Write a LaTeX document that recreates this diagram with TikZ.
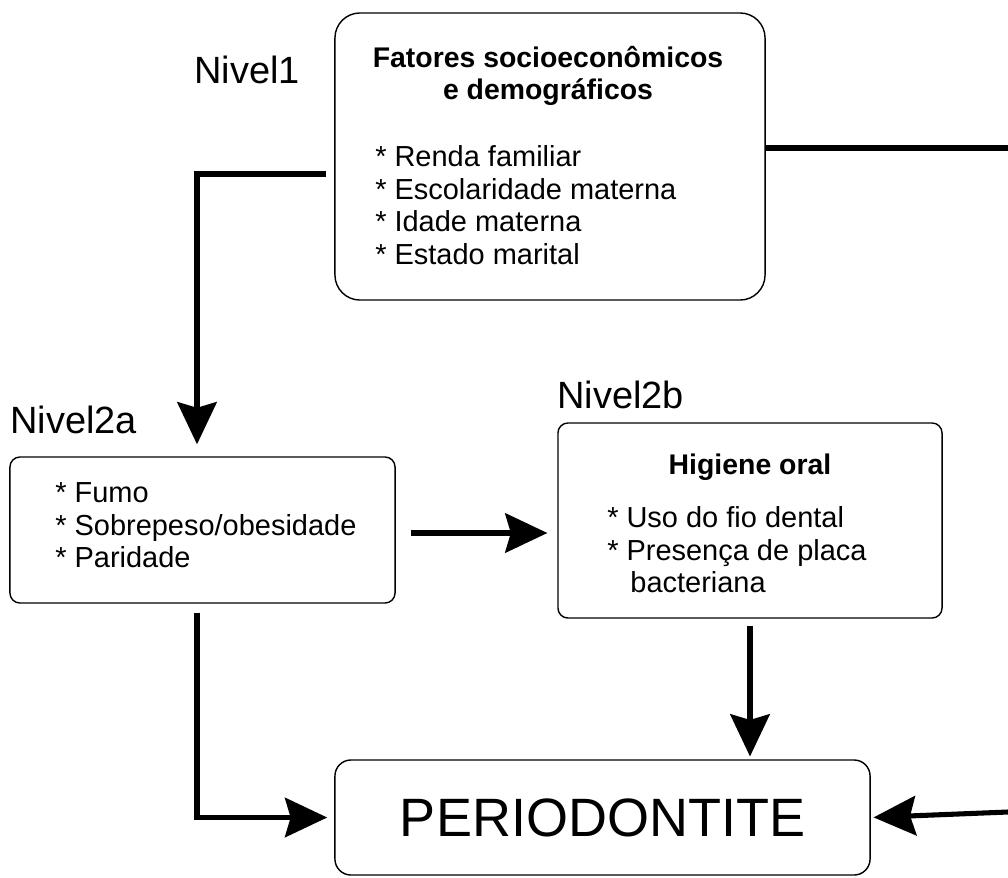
\documentclass[tikz,border=0pt]{standalone}
\usepackage{fontspec}
\setmainfont{Liberation Sans}
\usetikzlibrary{arrows.meta, positioning}

\begin{document}
\begin{tikzpicture}[x=0.025cm, y=-0.025cm,
    box/.style={draw, line width=1pt, inner sep=0pt},
    conn/.style={line width=3.6pt, -{Stealth[length=30pt, width=28pt, inset=4pt]}},
    lvl/.style={font=\fontsize{27}{30}\selectfont, inner sep=0pt},
    txt/.style={font=\fontsize{20.6}{23.1}\selectfont, align=left, inner sep=0pt},
    head/.style={font=\fontsize{20.2}{22.8}\selectfont\bfseries, align=center, inner sep=0pt}]

      \useasboundingbox (0,0) rectangle (1008,877);

      \node[box, rounded corners=0.625cm, minimum width=10.75cm, minimum height=7.175cm] (nivA) at (550,156.5) {};
      \node[head] (nivAtit) at (548,76) {Fatores socioeconômicos\\e demográficos};
      \node[txt, anchor=west] (nivAitm) at (375,205) {* Renda familiar\\* Escolaridade materna\\* Idade materna\\* Estado marital};
      \node[lvl] (nivAlab) at (247,70) {Nivel1};

      \node[box, rounded corners=0.25cm, minimum width=9.625cm, minimum height=3.65cm] (nivBa) at (202.5,530) {};
      \node[txt, anchor=west] (nivBaitm) at (55,525.5) {* Fumo\\* Sobrepeso/obesidade\\* Paridade};
      \node[lvl, anchor=west] (nivBalab) at (10,420) {Nivel2a};

      \node[box, rounded corners=0.25cm, minimum width=9.6cm, minimum height=4.875cm] (nivBb) at (750,520.5) {};
      \node[head] (nivBbtit) at (750,467) {Higiene oral};
      \node[txt, anchor=west] (nivBbitm) at (607,550) {* Uso do fio dental\\* Presença de placa\\\hspace{0.8em}bacteriana};
      \node[lvl, anchor=west] (nivBblab) at (557,395) {Nivel2b};

      \node[box, rounded corners=0.4cm, minimum width=13.375cm, minimum height=2.875cm,
        font=\fontsize{38.4}{40}\selectfont] (perio) at (602.5,817.5) {PERIODONTITE};

      \coordinate (bendA) at (197,174);
      \coordinate (rowB) at (0,533);
      \coordinate (edgeA) at (1008,148);
      \coordinate (edgeB) at (1008,812);

      \draw[conn, shorten <=5.7pt, shorten >=8.5pt] (nivA.west |- bendA) -- (bendA) -- (bendA |- nivBa.north);
      \draw[conn, shorten <=10.7pt, shorten >=7pt] (nivBa.east |- rowB) -- (nivBb.west |- rowB);
      \draw[conn, shorten <=5pt, shorten >=2pt] (nivBb.south) -- (perio.north -| nivBb.south);
      \draw[conn, shorten <=6.4pt, shorten >=5pt] (nivBa.south -| bendA) -- (bendA |- perio.west) -- (perio.west);
      \draw[conn, -] (nivA.east |- edgeA) -- (edgeA);
      \draw[conn, shorten >=2pt] (edgeB) -- (perio.east);
    \end{tikzpicture}
\end{document}
